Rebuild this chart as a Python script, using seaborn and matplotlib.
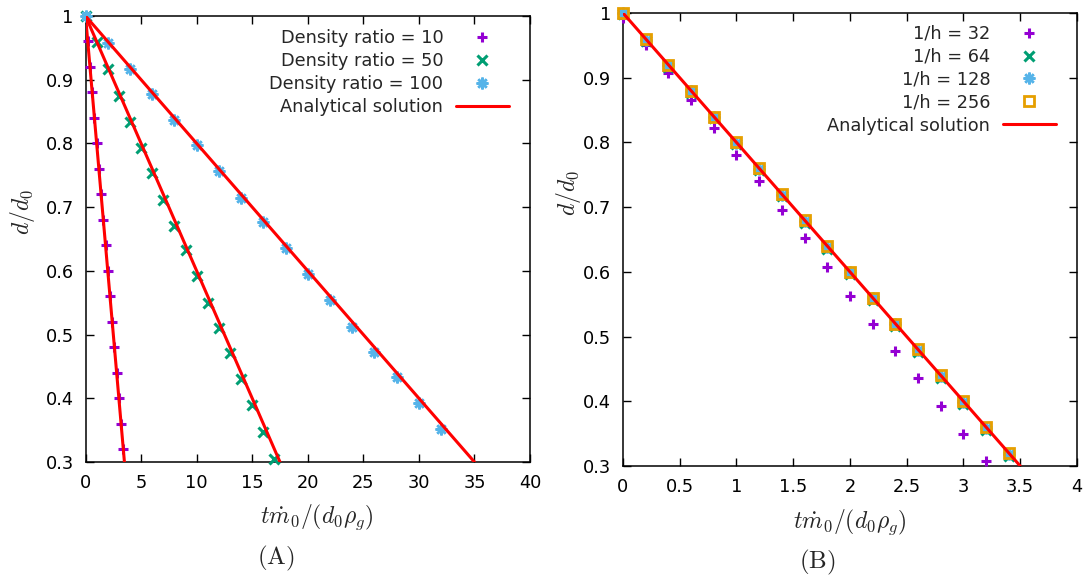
import numpy as np
import pandas as pd
import matplotlib
matplotlib.use("Agg")
import matplotlib.pyplot as plt
import seaborn as sns

# ---- data ----
# panel A: three density ratios
ratio10_t = [0, 0.2, 0.4, 0.6, 0.8, 1.0, 1.2, 1.4, 1.6, 1.8, 2.0, 2.2, 2.4, 2.6, 2.8, 3.0, 3.2, 3.4]
ratio10_d = [1.0, 0.96, 0.92, 0.88, 0.84, 0.80, 0.76, 0.72, 0.68, 0.64, 0.60, 0.56, 0.52, 0.48, 0.44, 0.40, 0.36, 0.32]
ratio50_t = [0, 1, 2, 3, 4, 5, 6, 7, 8, 9, 10, 11, 12, 13, 14, 15, 16, 17]
ratio50_d = [1.0, 0.959, 0.917, 0.875, 0.833, 0.793, 0.753, 0.711, 0.671, 0.632, 0.592, 0.550, 0.510, 0.471, 0.431, 0.389, 0.347, 0.305]
ratio100_t = [0, 2, 4, 6, 8, 10, 12, 14, 16, 18, 20, 22, 24, 26, 28, 30, 32]
ratio100_d = [1.0, 0.958, 0.917, 0.877, 0.837, 0.797, 0.756, 0.715, 0.677, 0.636, 0.595, 0.554, 0.512, 0.473, 0.433, 0.393, 0.351]
# analytical solution: straight lines from d/d0 = 1 down to 0.3
analytic_a_end = [3.5, 17.5, 35.0]

# panel B: grid refinement, density ratio 10
h32_t = [0, 0.2, 0.4, 0.6, 0.8, 1.0, 1.2, 1.4, 1.6, 1.8, 2.0, 2.2, 2.4, 2.6, 2.8, 3.0, 3.2]
h32_d = [0.992, 0.951, 0.907, 0.865, 0.823, 0.781, 0.740, 0.696, 0.652, 0.608, 0.562, 0.519, 0.478, 0.436, 0.393, 0.350, 0.308]
hfine_t = [0, 0.2, 0.4, 0.6, 0.8, 1.0, 1.2, 1.4, 1.6, 1.8, 2.0, 2.2, 2.4, 2.6, 2.8, 3.0, 3.2, 3.4]
h64_d = [0.998, 0.957, 0.917, 0.877, 0.837, 0.797, 0.757, 0.717, 0.676, 0.636, 0.596, 0.556, 0.516, 0.476, 0.436, 0.396, 0.356, 0.316]
h128_d = [1.0, 0.959, 0.919, 0.879, 0.839, 0.799, 0.759, 0.719, 0.679, 0.639, 0.599, 0.559, 0.519, 0.479, 0.439, 0.399, 0.359, 0.319]
h256_d = [1.0, 0.96, 0.92, 0.88, 0.84, 0.80, 0.76, 0.72, 0.68, 0.64, 0.60, 0.56, 0.52, 0.48, 0.44, 0.40, 0.36, 0.32]
analytic_b_end = [3.5]

# ticks
y_ticks = [0.3, 0.4, 0.5, 0.6, 0.7, 0.8, 0.9, 1.0]
y_ticklabels = ["0.3", "0.4", "0.5", "0.6", "0.7", "0.8", "0.9", "1"]
xa_ticks = [0, 5, 10, 15, 20, 25, 30, 35, 40]
xa_ticklabels = ["0", "5", "10", "15", "20", "25", "30", "35", "40"]
xb_ticks = [0, 0.5, 1, 1.5, 2, 2.5, 3, 3.5, 4]
xb_ticklabels = ["0", "0.5", "1", "1.5", "2", "2.5", "3", "3.5", "4"]

purple = "#9400D3"
green = "#009E73"
blue = "#56B4E9"
orange = "#E69F00"
red = "#FF0000"

sns.set_style("ticks")
plt.rcParams["font.family"] = ["DejaVu Sans"]
plt.rcParams["mathtext.fontset"] = "cm"
plt.rcParams["font.size"] = 12.8

fig = plt.figure(figsize=(10.91, 5.79), dpi=100)
ax1 = fig.add_axes([0.0784, 0.2021, 0.4074, 0.7703])
ax2 = fig.add_axes([0.5710, 0.1952, 0.4161, 0.7824])


def pts(ax, t, d, marker, color, label, ms, mew, mfc=None):
    sns.lineplot(x=t, y=d, ax=ax, sort=False, estimator=None, linestyle="",
                 marker=marker, markersize=ms, markeredgewidth=mew,
                 color=color, markeredgecolor=color,
                 markerfacecolor=color if mfc is None else mfc,
                 label=label, clip_on=False, zorder=3)


def analytic(ax, ends, label):
    for i, te in enumerate(ends):
        df = pd.DataFrame({"t": [0, te], "d": [1.0, 0.3]})
        sns.lineplot(data=df, x="t", y="d", ax=ax, color=red, linewidth=2.2,
                     label=label if i == 0 else None, zorder=4)


star = (8, 2, 0)

# panel A
pts(ax1, ratio10_t, ratio10_d, "+", purple, "Density ratio = 10", 7.5, 2.2)
pts(ax1, ratio50_t, ratio50_d, "x", green, "Density ratio = 50", 6.5, 2.2)
pts(ax1, ratio100_t, ratio100_d, star, blue, "Density ratio = 100", 8.5, 1.8)
analytic(ax1, analytic_a_end, "Analytical solution")

# panel B
pts(ax2, h32_t, h32_d, "+", purple, "1/h = 32", 7.5, 2.2)
pts(ax2, hfine_t, h64_d, "x", green, "1/h = 64", 6.5, 2.2)
pts(ax2, hfine_t, h128_d, star, blue, "1/h = 128", 8.5, 1.8)
pts(ax2, hfine_t, h256_d, "s", orange, "1/h = 256", 7.5, 2.0, mfc="none")
analytic(ax2, analytic_b_end, "Analytical solution")

for ax, xt, xtl, xlim in [(ax1, xa_ticks, xa_ticklabels, (0, 40)),
                          (ax2, xb_ticks, xb_ticklabels, (0, 4))]:
    ax.set_xlim(*xlim)
    ax.set_ylim(0.3, 1.0)
    ax.set_xticks(xt)
    ax.set_xticklabels(xtl)
    ax.set_yticks(y_ticks)
    ax.set_yticklabels(y_ticklabels)
    ax.tick_params(direction="in", length=6, width=1.0, pad=8.5,
                   top=True, right=True, labelsize=12.8, colors="black")
    for s in ax.spines.values():
        s.set_visible(True)
        s.set_linewidth(1.1)
        s.set_color("black")
    ax.set_xlabel(r"$t\dot{m}_0/(d_0\rho_g)$", fontsize=17)
    ax.set_ylabel(r"$d/d_0$", fontsize=17)

ax1.xaxis.set_label_coords(0.52, -0.09)
ax2.xaxis.set_label_coords(0.50, -0.091)
ax1.yaxis.set_label_coords(-0.109, 0.56)
ax2.yaxis.set_label_coords(-0.088, 0.603)

leg_kw = dict(loc="upper right", frameon=False, markerfirst=False,
              handlelength=3.0, handletextpad=0.7, labelspacing=0.28,
              borderpad=0, borderaxespad=0, fontsize=12.8)
ax1.legend(bbox_to_anchor=(0.953, 0.971), **leg_kw)
ax2.legend(bbox_to_anchor=(0.954, 0.974), **leg_kw)

fig.text(0.253, 0.036, r"$\mathrm{(A)}$", fontsize=18, ha="center", va="center")
fig.text(0.749, 0.028, r"$\mathrm{(B)}$", fontsize=18, ha="center", va="center")

fig.savefig("out.png", dpi=100)
